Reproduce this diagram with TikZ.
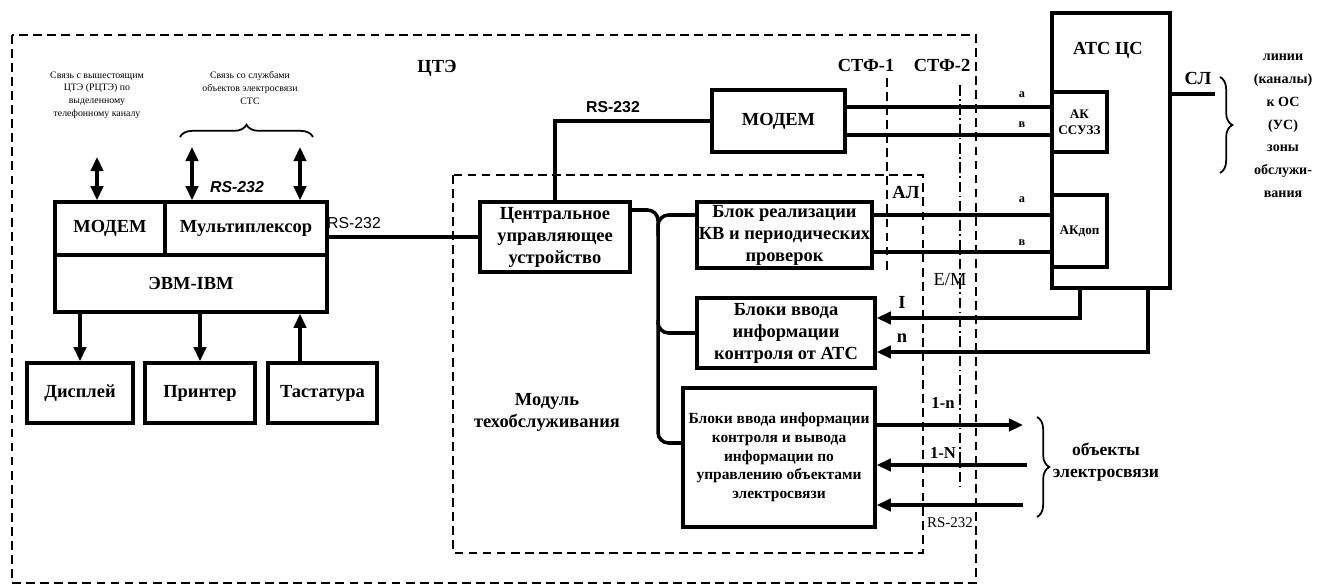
\documentclass[tikz,border=0pt]{standalone}
\usepackage{fontspec}
\setmainfont{Liberation Serif}
\setsansfont{Liberation Sans}
\usepackage{tikz}
\usetikzlibrary{arrows.meta,positioning,calc,decorations.pathreplacing}
\newcommand\boxfont{\bfseries\fontsize{10.5}{12.5}\selectfont}
\newcommand\midfont{\bfseries\fontsize{8.8}{10.6}\selectfont}
\newcommand\notefont{\fontsize{5.6}{7.2}\selectfont}
\newcommand\tagfont{\fontsize{10.5}{12}\selectfont}

\begin{document}
\begin{tikzpicture}[x=0.02cm, y=-0.02cm,
  every node/.style={font=\boxfont},
  box/.style={draw, line width=2pt, inner sep=1pt, align=center},
  wire/.style={line width=2pt},
  arr/.style={wire, -{Triangle[length=8pt,width=7pt]}},
  darr/.style={wire, {Triangle[length=8pt,width=7pt]}-{Triangle[length=8pt,width=7pt]}},
  frame/.style={dashed, line width=0.9pt, dash pattern=on 5pt off 3pt},
  brc/.style={decorate, decoration={brace, amplitude=7pt}, line width=1pt}]
\useasboundingbox (0,0) rectangle (1344,587);

% ЦТЭ and module frames, СТФ lines
\draw[frame] (12,35) rectangle (976,583);
\draw[frame] (453,175) rectangle (923,553);
\draw[frame] (887,78) -- (887,270);
\draw[frame, dash pattern=on 6pt off 2pt on 1pt off 2pt] (960,85) -- (960,487);

% computer part
\node[box, minimum width=2.2cm, minimum height=1.06cm] (modem) at (110,228.5) {МОДЕМ};
\node[box, minimum width=3.24cm, minimum height=1.06cm] (mux) at (246,228.5) {Мультиплексор};
\node[box, minimum width=5.44cm, minimum height=1.14cm] (evm) at (191,283.5) {ЭВМ-IBM};
\node[box, minimum width=2.12cm, minimum height=1.2cm] (disp) at (80,393) {Дисплей};
\node[box, minimum width=2.2cm, minimum height=1.2cm] (prn) at (200,393) {Принтер};
\node[box, minimum width=2.18cm, minimum height=1.2cm] (kbd) at (322.5,393) {Тастатура};

\node[align=center, font=\notefont] (upnote) at (97,95) {Связь с вышестоящим\\ЦТЭ (РЦТЭ) по\\выделенному\\телефонному каналу};
\node[align=center, font=\notefont] (stsnote) at (250,88) {Связь со службами\\объектов электросвязи\\СТС};
\coordinate (u1) at (97,157);
\coordinate (u2) at (192,147);
\coordinate (u3) at (300,147);
\draw[darr] (u1) -- (modem.north -| u1);
\draw[darr] (u2) -- (mux.north -| u2);
\draw[darr] (u3) -- (mux.north -| u3);
\draw[brc] (180,137) -- (313,137);
\node[font=\sffamily\bfseries\itshape\fontsize{9}{11}\selectfont] (rsa) at (237,187) {RS-232};

\draw[arr] (evm.south -| disp.north) -- (disp.north);
\draw[arr] (evm.south -| prn.north) -- (prn.north);
\draw[arr] (kbd.north -| 300,0) -- (evm.south -| 300,0);

% maintenance module
\node[box, minimum width=3.0cm, minimum height=1.4cm] (cuu) at (555,237) {Центральное\\управляющее\\устройство};
\node[box, minimum width=2.66cm, minimum height=1.24cm] (modemb) at (778.5,121) {МОДЕМ};
\node[box, minimum width=3.5cm, minimum height=1.32cm] (kv) at (784.5,235) {Блок реализации\\КВ и периодических\\проверок};
\node[box, minimum width=3.56cm, minimum height=1.4cm] (vvod) at (786,333) {Блоки ввода\\информации\\контроля от АТС};
\node[box, minimum width=3.84cm, minimum height=2.78cm, font=\midfont] (obj) at (779,457.5) {Блоки ввода информации\\контроля и вывода\\информации по\\управлению объектами\\электросвязи};
\node[align=center] (modlbl) at (547,412) {Модуль\\техобслуживания};

\draw[wire] (mux.east |- cuu.west) -- (cuu.west);
\node[font=\sffamily\fontsize{9}{11}\selectfont] (rsb) at (354,223) {RS-232};
\draw[wire] (cuu.north) |- (modemb.west);
\node[font=\sffamily\bfseries\fontsize{9}{11}\selectfont] (rsc) at (613,107) {RS-232};

\coordinate (jt) at (658,210);
\coordinate (jb) at (658,443);
\coordinate (j1) at (658,236);
\coordinate (j2) at (658,320);
\draw[wire, rounded corners=6pt] (cuu.east |- jt) -- (jt) -- (jb) -- (obj.west |- jb);
\draw[wire, rounded corners=6pt] (j1) |- (kv.west |- 0,215);
\draw[wire, rounded corners=6pt] (j2) |- (vvod.west |- 0,333);

% exchange
\node[box, minimum width=2.36cm, minimum height=5.5cm] (atc) at (1111,150.5) {};
\node[font=\bfseries\tagfont] (atclbl) at (1108,50) {АТС ЦС};
\node[box, minimum width=1.1cm, minimum height=1.2cm, font=\bfseries\fontsize{7.5}{9}\selectfont] (ak) at (1079.5,122) {АК\\ССУЗЗ};
\node[box, minimum width=1.1cm, minimum height=1.44cm, font=\bfseries\fontsize{7.5}{9}\selectfont] (akdop) at (1079.5,231) {АКдоп};

\draw[wire] (modemb.east |- 0,107) -- (ak.west |- 0,107);
\draw[wire] (modemb.east |- 0,135) -- (ak.west |- 0,135);
\draw[wire] (kv.east |- 0,215) -- (akdop.west |- 0,215);
\draw[wire] (kv.east |- 0,252) -- (akdop.west |- 0,252);
\draw[arr] (atc.south -| 1080,0) |- (vvod.east |- 0,318);
\draw[arr] (atc.south -| 1148,0) |- (vvod.east |- 0,352);

\coordinate (o1) at (1023,425);
\coordinate (o2) at (1027,465);
\coordinate (o3) at (1023,505);
\draw[arr] (obj.east |- o1) -- (o1);
\draw[arr] (o2) -- (obj.east |- o2);
\draw[arr] (o3) -- (obj.east |- o3);
\draw[brc] (1037,417) -- (1037,517);
\node[align=center, font=\bfseries\fontsize{10}{13}\selectfont] (objlbl) at (1106,462) {объекты\\электросвязи};

\coordinate (sl) at (1215,94);
\draw[wire] (atc.east |- sl) -- (sl);
\draw[brc] (1220,77) -- (1220,173);
\node[align=center, font=\bfseries\fontsize{8}{13}\selectfont] (linelbl) at (1283,126) {линии\\(каналы)\\к ОС\\(УС)\\зоны\\обслужи-\\вания};

% labels
\node[font=\bfseries\tagfont] (tcte) at (437,68) {ЦТЭ};
\node[font=\bfseries\tagfont] (stf1) at (866,65) {СТФ-1};
\node[font=\bfseries\tagfont] (stf2) at (942,65) {СТФ-2};
\node[font=\bfseries\tagfont] (sllbl) at (1198,78) {СЛ};
\node[font=\bfseries\tagfont] (al) at (906,193) {АЛ};
\node[font=\tagfont] (em) at (950,280) {Е/М};
\node[font=\bfseries\fontsize{7}{8}\selectfont] (la1) at (1022,95) {а};
\node[font=\bfseries\fontsize{7}{8}\selectfont] (lb1) at (1022,125) {в};
\node[font=\bfseries\fontsize{7}{8}\selectfont] (la2) at (1022,200) {а};
\node[font=\bfseries\fontsize{7}{8}\selectfont] (lb2) at (1022,243) {в};
\node[font=\bfseries\tagfont] (li) at (902,302) {I};
\node[font=\bfseries\tagfont] (ln) at (902,338) {n};
\node[font=\bfseries\fontsize{9.5}{11}\selectfont] (l1n) at (943,403) {1-n};
\node[font=\bfseries\fontsize{9.5}{11}\selectfont] (l1N) at (943,453) {1-N};
\node[font=\fontsize{8.5}{9}\selectfont] (lrs) at (950,523) {RS-232};
\end{tikzpicture}
\end{document}
